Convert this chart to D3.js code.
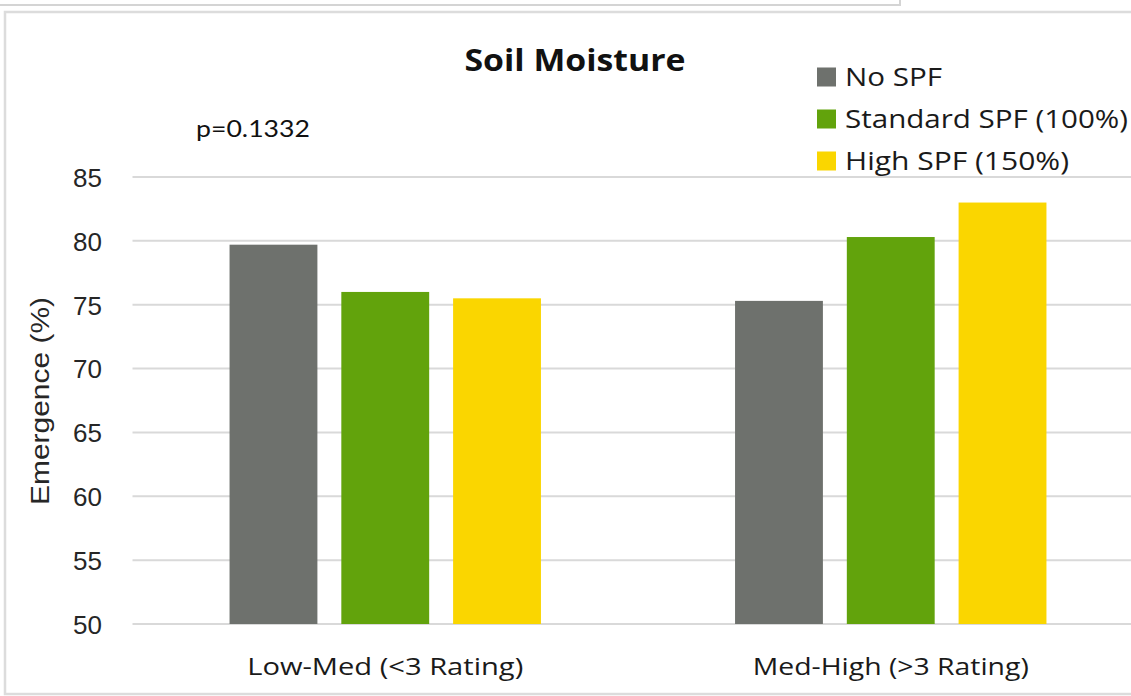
<!DOCTYPE html>
<html>
<head>
<meta charset="utf-8">
<script src="https://cdn.jsdelivr.net/npm/d3@7"></script>
<style>
  html, body { margin: 0; padding: 0; background: #ffffff; }
  svg { display: block; }
</style>
</head>
<body>
<svg id="chart" width="1131" height="696"></svg>
<script>
// Emergence by soil moisture class and seed protection treatment
const categories = ["Low-Med (<3 Rating)", "Med-High (>3 Rating)"];
const seriesNames = ["No SPF", "Standard SPF (100%)", "High SPF (150%)"];
const noSpf = [79.7, 75.3];
const standardSpf = [76.0, 80.3];
const highSpf = [75.5, 83.0];
const seriesColors = ["#6e716d", "#62a30c", "#fad600"];
const yTicks = [50, 55, 60, 65, 70, 75, 80, 85];
const titleText = "Soil Moisture";
const pValueText = "p=0.1332";
const yAxisLabel = "Emergence (%)";

const seriesValues = [noSpf, standardSpf, highSpf];
const rows = [];
categories.forEach((c, ci) => {
  seriesNames.forEach((s, si) => rows.push({ category: c, series: s, value: seriesValues[si][ci], si }));
});

const svg = d3.select("#chart");
const labelFont = "'Open Sans', 'Noto Sans', sans-serif";

// Panel frames
svg.append("rect")
  .attr("x", -4).attr("y", -10).attr("width", 904).attr("height", 15)
  .attr("fill", "#fff").attr("stroke", "#d4d4d4").attr("stroke-width", 2);
svg.append("rect")
  .attr("x", 5).attr("y", 12).attr("width", 1140).attr("height", 682)
  .attr("fill", "#fff").attr("stroke", "#dcdcdc").attr("stroke-width", 2.5);

// Scales
const x = d3.scaleBand().domain(categories).range([132.5, 1143.5]).paddingInner(0).paddingOuter(0);
const xInner = d3.scaleBand().domain(seriesNames).range([-155.7, 155.7]).paddingInner(0.214).paddingOuter(0);
const y = d3.scaleLinear().domain([50, 85]).range([624, 177]);

// Gridlines
svg.append("g")
  .selectAll("line").data(yTicks).join("line")
  .attr("x1", 132.5).attr("x2", 1131)
  .attr("y1", d => y(d)).attr("y2", d => y(d))
  .attr("stroke", "#d9d9d9").attr("stroke-width", 2);

// Y axis labels
const yAxis = d3.axisLeft(y).tickValues(yTicks).tickSize(0).tickPadding(0);
const yg = svg.append("g").attr("transform", "translate(102,0)").call(yAxis);
yg.select(".domain").remove();
yg.selectAll("text")
  .attr("font-family", "'Liberation Sans', Arial, sans-serif")
  .attr("font-size", 26).attr("fill", "#262626").attr("dy", "0.36em");

// Bars
svg.append("g")
  .selectAll("rect").data(rows).join("rect")
  .attr("x", d => x(d.category) + x.bandwidth() / 2 + xInner(d.series))
  .attr("width", xInner.bandwidth())
  .attr("y", d => y(d.value))
  .attr("height", d => y(50) - y(d.value))
  .attr("fill", d => seriesColors[d.si]);

// Category labels
const xAxis = d3.axisBottom(x).tickSize(0).tickPadding(0);
const xg = svg.append("g").attr("transform", "translate(0,667)").call(xAxis);
xg.select(".domain").remove();
xg.selectAll("text")
  .attr("font-family", labelFont).attr("font-size", 24).attr("fill", "#1a1a1a")
  .attr("dy", "0.35em")
  .attr("textLength", 276).attr("lengthAdjust", "spacingAndGlyphs");

// Y axis title
svg.append("text")
  .attr("transform", "translate(40,401) rotate(-90)")
  .attr("text-anchor", "middle").attr("dy", "0.35em")
  .attr("font-family", "'Liberation Sans', Arial, sans-serif")
  .attr("font-size", 25).attr("fill", "#262626")
  .attr("textLength", 208).attr("lengthAdjust", "spacingAndGlyphs")
  .text(yAxisLabel);

// Title
svg.append("text")
  .attr("x", 575).attr("y", 60).attr("dy", "0.35em")
  .attr("text-anchor", "middle")
  .attr("font-family", labelFont).attr("font-weight", "bold")
  .attr("font-size", 30).attr("fill", "#111")
  .attr("textLength", 221).attr("lengthAdjust", "spacingAndGlyphs")
  .text(titleText);

// p-value annotation
svg.append("text")
  .attr("x", 196).attr("y", 129).attr("dy", "0.35em")
  .attr("font-family", "Lato, 'Open Sans', sans-serif")
  .attr("font-size", 24).attr("fill", "#111")
  .attr("textLength", 114).attr("lengthAdjust", "spacingAndGlyphs")
  .text(pValueText);

// Legend
const legendY = [77, 119, 161];
const legendWidths = [97, 283, 224];
const lg = svg.append("g").selectAll("g").data(seriesNames).join("g")
  .attr("transform", (d, i) => `translate(817,${legendY[i]})`);
lg.append("rect")
  .attr("x", 0).attr("y", -9.5).attr("width", 19).attr("height", 19)
  .attr("fill", (d, i) => seriesColors[i]);
lg.append("text")
  .attr("x", 28).attr("y", 0).attr("dy", "0.35em")
  .attr("font-family", labelFont).attr("font-size", 26).attr("fill", "#1a1a1a")
  .attr("textLength", (d, i) => legendWidths[i]).attr("lengthAdjust", "spacingAndGlyphs")
  .text(d => d);
</script>
</body>
</html>
